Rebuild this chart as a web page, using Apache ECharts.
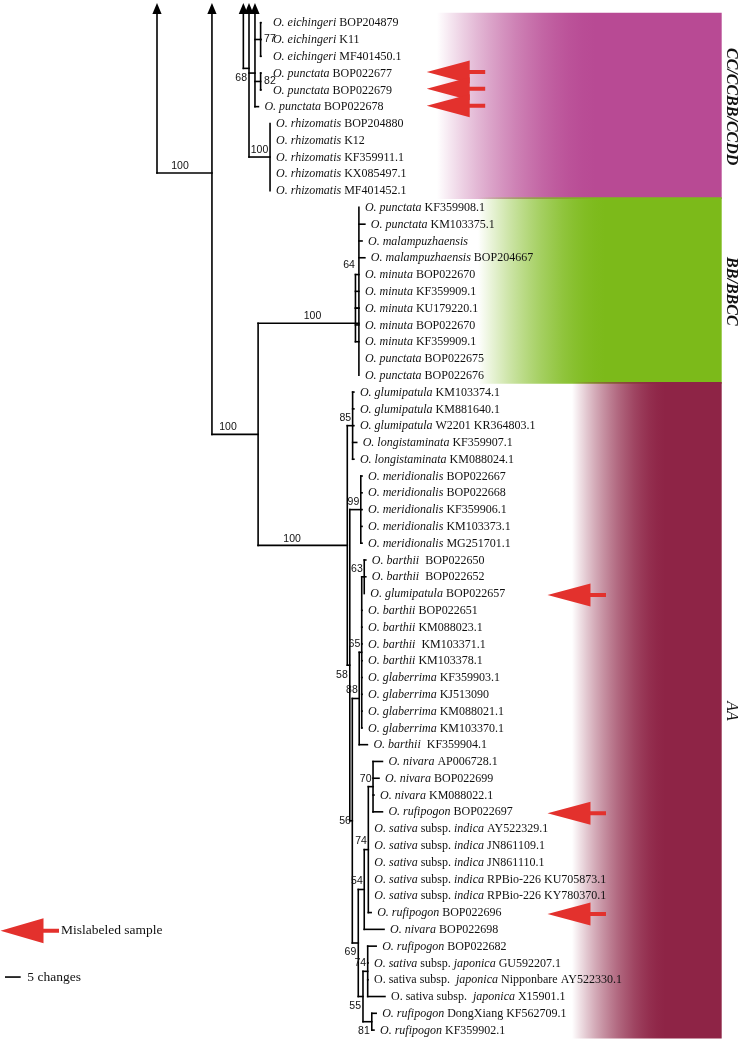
<!DOCTYPE html>
<html><head><meta charset="utf-8">
<script src="https://cdn.jsdelivr.net/npm/echarts@6/dist/echarts.min.js"></script>
<style>html,body{margin:0;padding:0;background:#fff}#c{width:739px;height:1039px}</style>
</head><body><div id="c"></div>
<script>
// ---------------- DATA ----------------
// Leaves, top to bottom. *...* = italic part
const leafLabels = [
  '*O. eichingeri* BOP204879','*O. eichingeri* K11','*O. eichingeri* MF401450.1',
  '*O. punctata* BOP022677','*O. punctata* BOP022679','*O. punctata* BOP022678',
  '*O. rhizomatis* BOP204880','*O. rhizomatis* K12','*O. rhizomatis* KF359911.1','*O. rhizomatis* KX085497.1','*O. rhizomatis* MF401452.1',
  '*O. punctata* KF359908.1','*O. punctata* KM103375.1','*O. malampuzhaensis*','*O. malampuzhaensis* BOP204667',
  '*O. minuta* BOP022670','*O. minuta* KF359909.1','*O. minuta* KU179220.1','*O. minuta* BOP022670','*O. minuta* KF359909.1',
  '*O. punctata* BOP022675','*O. punctata* BOP022676',
  '*O. glumipatula* KM103374.1','*O. glumipatula* KM881640.1','*O. glumipatula* W2201 KR364803.1',
  '*O. longistaminata* KF359907.1','*O. longistaminata* KM088024.1',
  '*O. meridionalis* BOP022667','*O. meridionalis* BOP022668','*O. meridionalis* KF359906.1','*O. meridionalis* KM103373.1','*O. meridionalis* MG251701.1',
  '*O. barthii*  BOP022650','*O. barthii*  BOP022652','*O. glumipatula* BOP022657',
  '*O. barthii* BOP022651','*O. barthii* KM088023.1','*O. barthii*  KM103371.1','*O. barthii* KM103378.1',
  '*O. glaberrima* KF359903.1','*O. glaberrima* KJ513090','*O. glaberrima* KM088021.1','*O. glaberrima* KM103370.1',
  '*O. barthii*  KF359904.1',
  '*O. nivara* AP006728.1','*O. nivara* BOP022699','*O. nivara* KM088022.1','*O. rufipogon* BOP022697',
  '*O. sativa* subsp. *indica* AY522329.1','*O. sativa* subsp. *indica* JN861109.1','*O. sativa* subsp. *indica* JN861110.1',
  '*O. sativa* subsp. *indica* RPBio-226 KU705873.1','*O. sativa* subsp. *indica* RPBio-226 KY780370.1',
  '*O. rufipogon* BOP022696','*O. nivara* BOP022698','*O. rufipogon* BOP022682',
  '*O. sativa* subsp. *japonica* GU592207.1','O. sativa subsp.  *japonica* Nipponbare AY522330.1','O. sativa subsp.  *japonica* X15901.1',
  '*O. rufipogon* DongXiang KF562709.1','*O. rufipogon* KF359902.1'
];
const leafParent = ['E','E','E','P82','P82','A','Rhiz','Rhiz','Rhiz','Rhiz','Rhiz',
  'BB','BB','BB','BB','M64','M64','M64','M64','M64','BB','BB',
  'n85','n85','n85','n85','n85','n99','n99','n99','n99','n99',
  'n63','n63','n63','n65','n65','n65','n65','n65','n65','n65','n65','n88',
  'n70','n70','n70','n70','n74','n74','n74','n74','n74','n74','n54',
  'n74j','n74j','n74j','n74j','n81','n81'];
// tip depth (changes from root)
const leafDepth = [33.1,33.1,33.1,33.1,33.1,32.3,36.0,36.0,36.0,36.0,36.0,
  64.3,66.2,65.3,66.2,64.3,64.3,64.3,64.3,64.3,64.3,64.3,
  62.7,62.7,62.7,63.6,62.7,65.3,65.3,65.3,65.3,65.3,
  66.5,66.5,66.0,65.3,65.3,65.3,65.3,65.3,65.3,65.3,65.3,67.0,
  71.8,70.7,69.1,71.8,67.3,67.3,67.3,67.3,67.3,68.2,72.3,
  69.8,67.2,67.2,72.6,69.8,69.1];
// internal nodes
const nodeNames   = ['R','B','AB','BB','M64','AA','n85','N58','n99','N56','n88','n65','n63','n69','n54','n74','n70','n55','n74j','n81','P243','N249','A','E','P82','Rhiz'];
const nodeParents = [null,'R','B','AB','BB','AB','AA','AA','N58','N58','N56','n88','n65','N56','n69','n54','n74','n69','n55','n55',null,'P243','N249','A','A','N249'];
const nodeDepth   = [0,17.5,32.2,64.3,63.2,60.6,62.3,61.4,64.9,62.2,64.4,65.2,66.0,64.1,66.0,67.3,68.8,65.6,67.1,68.4,27.5,29.3,31.2,33.0,33.0,36.0];
const stemNodes = ['R','B','P243','N249','A'];          // branches continuing off the top (arrows)
const nodeRowOverride = {B: 8.95, N249: 2.72, BB: 17.9};
// bootstrap support
const supportNodes  = ['B','AB','BB','AA','Rhiz','N249','E','P82','M64','n85','n99','n63','n65','N58','n88','n70','N56','n74','n54','n69','n74j','n55','n81'];
const supportValues = [100,100,100,100,100,68,77,82,64,85,99,63,65,58,88,70,56,74,54,69,74,55,81];
// groups
const groupNames = ['CC/CCBB/CCDD','BB/BBCC','AA'];
const groupFirstLeaf = [0, 11, 22];
const groupLastLeaf  = [10, 21, 60];
const groupColors = ['#B84A94','#7CBA1A','#8E2446'];
const mislabeledLeaves = [3,4,5,34,47,53];
const scaleBarChanges = 5;

// ---------------- LAYOUT / STYLE ----------------
const SERIF = '"Liberation Serif","Times New Roman",Times,serif';
const SANS = '"Liberation Sans",Arial,Helvetica,sans-serif';
const supportPlace = ['branch','branch','branch','branch','branch','belowLeft','right','right','topLeft','aboveLeft','aboveLeft','aboveLeft','aboveLeft','belowLeft','aboveLeft','aboveLeft','left','aboveLeft','aboveLeft','belowLeft','aboveLeft','belowLeft','belowLeft'];
const branchNudge = {B:-4.5, AB:-7, BB:4, AA:-10.6, Rhiz:0};
const stemBaseRow = -0.52, stemTipRow = -1.17;
const bandStartPx = [437, 478, 572], bandFullPx = [595, 605, 665], bandRightPx = 721.7;
const groupLabelBold = [true, true, false];
const arrowTipPx = [426.7, null, 547.5];
const arrowDyPx = [-1, 0, 1.5];
const LINE = '#000', TXT = '#111', RED = '#E3312D';

// ---------------- TREE GEOMETRY ----------------
const depthOf = {}; nodeNames.forEach((n,k)=>depthOf[n]=nodeDepth[k]);
const parentOf = {}; nodeNames.forEach((n,k)=>parentOf[n]=nodeParents[k]);
const rowMemo = {};
function nodeRow(n){
  if (rowMemo[n] !== undefined) return rowMemo[n];
  const rows = allChildRows(n);
  let r = (Math.min(...rows)+Math.max(...rows))/2;
  if (nodeRowOverride[n] !== undefined) r = nodeRowOverride[n];
  rowMemo[n] = r; return r;
}
function allChildRows(n){
  const rows = [];
  leafParent.forEach((p,i)=>{ if(p===n) rows.push(i); });
  nodeNames.forEach((c,k)=>{ if(nodeParents[k]===n) rows.push(nodeRow(c)); });
  return rows;
}
const segs = [];
leafParent.forEach((p,i)=>{ if (Math.abs(leafDepth[i]-depthOf[p])>0.05) segs.push([depthOf[p], i, leafDepth[i], i]); });
nodeNames.forEach((n,k)=>{
  const p = nodeParents[k];
  if (p) segs.push([depthOf[p], nodeRow(n), depthOf[n], nodeRow(n)]);
  const rows = allChildRows(n);
  let top = Math.min(...rows), bot = Math.max(...rows);
  if (stemNodes.includes(n)) top = stemBaseRow;
  segs.push([depthOf[n], top, depthOf[n], bot]);
});
const stemData = stemNodes.map(n=>[depthOf[n], stemTipRow, stemBaseRow]);
const leafData = leafLabels.map((t,i)=>[leafDepth[i], i, i]);
const supportData = supportNodes.map((n,k)=>{
  const rows = allChildRows(n);
  const p = parentOf[n];
  return [depthOf[n], nodeRow(n), k, p ? depthOf[p] : depthOf[n], Math.min(...rows)];
});
const bandData = groupNames.map((g,k)=>[groupFirstLeaf[k]-0.6, groupLastLeaf[k]+0.5, k]);
const groupOfLeaf = i => groupFirstLeaf.findIndex((f,k)=> i>=f && i<=groupLastLeaf[k]);
const arrowData = mislabeledLeaves.map(i=>[0, i, groupOfLeaf(i)]);

function toRich(s){
  return s.split('*').map((t,i)=> t==='' ? '' : (i%2 ? '{i|'+t+'}' : '{r|'+t+'}')).join('');
}
function rgba(hex,a){const v=parseInt(hex.slice(1),16);return `rgba(${v>>16},${(v>>8)&255},${v&255},${a})`;}
function arrowPts(tx,ty,half){
  const L=43, T=15.5, th=2;
  return [[tx,ty],[tx+L,ty-half],[tx+L,ty-th],[tx+L+T,ty-th],[tx+L+T,ty+th],[tx+L,ty+th],[tx+L,ty+half]];
}
function fadeStops(color, f){
  const stops = [];
  for (let s=0; s<=12; s++){ const t=s/12; stops.push({offset:t*f, color:rgba(color, 1-Math.pow(1-t,1.7))}); }
  stops.push({offset:1, color:rgba(color,1)});
  return stops;
}

const chart = echarts.init(document.getElementById('c'), null, {renderer:'canvas'});
const richStyle = {
  i:{fontStyle:'italic', fontFamily:SERIF, fontSize:12, fill:TXT},
  r:{fontStyle:'normal', fontFamily:SERIF, fontSize:12, fill:TXT}
};
chart.setOption({
  animation:false,
  backgroundColor:'#fff',
  grid:{left:0,right:0,top:0,bottom:0},
  xAxis:{type:'value',min:-50,max:185.35,show:false},
  yAxis:{type:'value',inverse:true,min:-1.352,max:60.53,show:false},
  series:[
    { type:'custom', z:1, clip:false, data:bandData,
      renderItem:(params,api)=>{
        const k = api.value(2);
        const y1 = api.coord([0, api.value(0)])[1], y2 = api.coord([0, api.value(1)])[1];
        const x1 = bandStartPx[k], w = bandRightPx - x1;
        const f = (bandFullPx[k]-x1)/w;
        return {type:'rect', shape:{x:x1,y:y1,width:w,height:y2-y1},
          style:{fill:new echarts.graphic.LinearGradient(0,0,1,0,fadeStops(groupColors[k], f))}};
      }},
    { type:'custom', z:3, clip:false, data:groupNames.map((g,k)=>[0, (groupFirstLeaf[k]+groupLastLeaf[k])/2, k]),
      renderItem:(params,api)=>{
        const k = api.value(2);
        const y = api.coord([0, api.value(1)])[1];
        return {type:'text', x:731, y:y, rotation:-Math.PI/2,
          style:{text:groupNames[k], x:0, y:0, align:'center', verticalAlign:'middle',
            fontFamily:SERIF, fontSize:16, fontStyle:'italic', fontWeight:groupLabelBold[k]?'bold':'normal', fill:'#111'}};
      }},
    { type:'custom', z:4, clip:false, data:segs,
      renderItem:(params,api)=>{
        const a = api.coord([api.value(0),api.value(1)]), b = api.coord([api.value(2),api.value(3)]);
        return {type:'line', shape:{x1:a[0],y1:a[1],x2:b[0],y2:b[1]},
          style:{stroke:LINE, lineWidth:1.6, lineCap:'square'}};
      }},
    { type:'custom', z:4, clip:false, data:stemData,
      renderItem:(params,api)=>{
        const t = api.coord([api.value(0),api.value(1)]), b = api.coord([api.value(0),api.value(2)]);
        return {type:'polygon', shape:{points:[[t[0],t[1]],[t[0]-4.6,b[1]],[t[0]+4.6,b[1]]]}, style:{fill:LINE}};
      }},
    { type:'custom', z:5, clip:false, data:leafData,
      renderItem:(params,api)=>{
        const i = api.value(2);
        const p = api.coord([api.value(0),api.value(1)]);
        const pad = i<=4 ? 12 : 6;
        return {type:'text', x:p[0]+pad, y:p[1]+0.5,
          style:{text:toRich(leafLabels[i]), x:0, y:0, align:'left', verticalAlign:'middle',
            fontFamily:SERIF, fontSize:12, fill:TXT, rich:richStyle}};
      }},
    { type:'custom', z:5, clip:false, data:supportData,
      renderItem:(params,api)=>{
        const k = api.value(2), mode = supportPlace[k];
        const p = api.coord([api.value(0),api.value(1)]);
        let x, y, align='right';
        if (mode==='branch'){ const q = api.coord([api.value(3),api.value(1)]); x=(p[0]+q[0])/2+(branchNudge[supportNodes[k]]||0); y=p[1]-6.8; align='center'; }
        else if (mode==='aboveLeft'){ x=p[0]-1.5; y=p[1]-8; }
        else if (mode==='belowLeft'){ x=p[0]-2; y=p[1]+9.5; }
        else if (mode==='right'){ x=p[0]+3.5; y=p[1]; align='left'; }
        else if (mode==='left'){ x=p[0]-1.5; y=p[1]; }
        else { const tp = api.coord([api.value(0),api.value(4)]); x=p[0]-0.5; y=tp[1]-9; }
        return {type:'text', x:x, y:y,
          style:{text:String(supportValues[k]), x:0, y:0, align:align, verticalAlign:'middle',
            fontFamily:SANS, fontSize:10.5, fill:'#111'}};
      }},
    { type:'custom', z:6, clip:false, data:arrowData,
      renderItem:(params,api)=>{
        const g = api.value(2);
        const y = api.coord([0, api.value(1)])[1];
        return {type:'polygon', shape:{points:arrowPts(arrowTipPx[g], y+arrowDyPx[g], 11.5)}, style:{fill:RED}};
      }},
    { type:'custom', z:6, clip:false, data:[[-48.41, 56.84, scaleBarChanges]],
      renderItem:(params,api)=>{
        const a = api.coord([api.value(0),api.value(1)]), b = api.coord([api.value(0)+api.value(2),api.value(1)]);
        return {type:'group', children:[
          {type:'line', shape:{x1:a[0],y1:a[1],x2:b[0],y2:b[1]}, style:{stroke:LINE,lineWidth:1.6}},
          {type:'text', x:b[0]+6.6, y:a[1], style:{text:scaleBarChanges+' changes', x:0,y:0, align:'left', verticalAlign:'middle', fontFamily:SERIF, fontSize:13.5, fill:TXT}}
        ]};
      }}
  ],
  graphic:[
    {type:'polygon', shape:{points:arrowPts(0.5, 930.7, 12.5)}, style:{fill:RED}, z:10},
    {type:'text', x:61, y:930.7, style:{text:'Mislabeled sample', align:'left', verticalAlign:'middle', fontFamily:SERIF, fontSize:13.5, fill:TXT}, z:10}
  ]
});
</script>
</body></html>
